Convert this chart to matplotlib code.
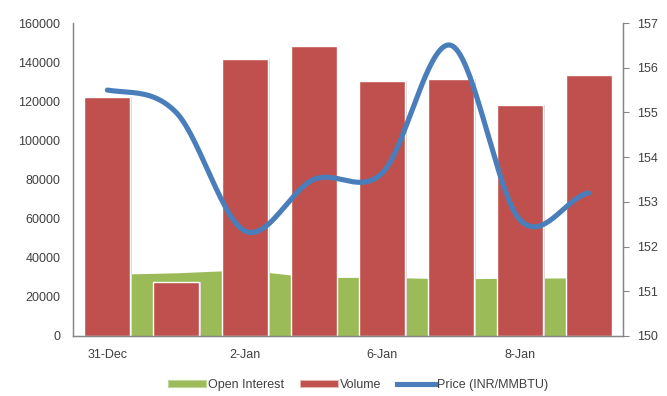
import numpy as np
import matplotlib
matplotlib.use("Agg")
import matplotlib.pyplot as plt
from matplotlib.lines import Line2D
from matplotlib.patches import Patch

# Trading days and daily figures
dates = ["31-Dec", "1-Jan", "2-Jan", "3-Jan", "6-Jan", "7-Jan", "8-Jan", "9-Jan"]
volume = [122000, 27450, 141400, 148400, 130500, 131400, 117900, 133400]
open_interest = [31500, 32300, 33800, 29900, 30000, 29200, 29600, 29700]
price = [155.5, 155.0, 152.35, 153.5, 153.65, 156.5, 152.6, 153.2]

GREEN = "#9BBB59"
RED = "#C0504D"
BLUE = "#4A7EBB"
TEXT = "#404040"
AXIS = "#868686"

plt.rcParams["font.family"] = ["Liberation Sans", "DejaVu Sans"]
plt.rcParams["font.size"] = 9


def smooth(y, steps=40):
    # Catmull-Rom spline through every point, like a smoothed spreadsheet line
    y = np.asarray(y, dtype=float)
    n = len(y)
    xs, ys = [], []
    for i in range(n - 1):
        p0 = y[max(i - 1, 0)]
        p1 = y[i]
        p2 = y[i + 1]
        p3 = y[min(i + 2, n - 1)]
        m1 = (p2 - p0) / 2
        m2 = (p3 - p1) / 2
        t = np.linspace(0, 1, steps, endpoint=(i == n - 2))
        h00 = 2 * t**3 - 3 * t**2 + 1
        h10 = t**3 - 2 * t**2 + t
        h01 = -2 * t**3 + 3 * t**2
        h11 = t**3 - t**2
        xs.append(i + t)
        ys.append(h00 * p1 + h10 * m1 + h01 * p2 + h11 * m2)
    return np.concatenate(xs), np.concatenate(ys)


x = np.arange(len(dates))

fig = plt.figure(figsize=(6.67, 3.96), dpi=100)
ax = fig.add_axes([73 / 667, 60 / 396, 550 / 667, 313 / 396])

ax.fill_between(x, open_interest, color=GREEN, lw=0, zorder=1)
# soft drop shadow on the right of each column
ax.bar(x + 0.025, volume, width=0.67, color="#d4d4d4", lw=0, zorder=1.5)
ax.bar(x, volume, width=0.67, color=RED, edgecolor="white", linewidth=1.0, zorder=2)

ax.set_xlim(-0.5, len(dates) - 0.5)
ax.set_ylim(0, 160000)
ax.set_yticks(np.arange(0, 160001, 20000))
ax.set_xticks(x[::2])
ax.set_xticklabels(dates[::2])
ax.tick_params(axis="y", length=0, pad=9, colors=TEXT)
ax.tick_params(axis="x", length=0, pad=9, colors=TEXT)

ax2 = ax.twinx()
sx, sy = smooth(price)
ax2.plot(sx, sy, color=BLUE, lw=3.7, solid_capstyle="round", zorder=5)
ax2.set_ylim(150, 157)
ax2.set_yticks(range(150, 158))
ax2.tick_params(axis="y", length=4, width=0.8, pad=6, colors=TEXT)
ax2.tick_params(axis="y", color=AXIS)

for a in (ax, ax2):
    a.spines["top"].set_visible(False)
    for side in ("left", "right", "bottom"):
        a.spines[side].set_color(AXIS)
        a.spines[side].set_linewidth(0.9)

handles = [
    Patch(facecolor=GREEN, edgecolor="#c3d69b", linewidth=0.8),
    Patch(facecolor=RED, edgecolor="#e6b9b8", linewidth=0.8),
    Line2D([0], [0], color=BLUE, lw=3.7),
]
fig.legend(
    handles,
    ["Open Interest", "Volume", "Price (INR/MMBTU)"],
    loc="center",
    bbox_to_anchor=(358 / 667, 1 - 385 / 396),
    ncol=3,
    frameon=False,
    handlelength=3.0,
    handleheight=0.55,
    handletextpad=0.15,
    columnspacing=1.3,
    labelcolor=TEXT,
)

fig.savefig("out.png", dpi=100)
